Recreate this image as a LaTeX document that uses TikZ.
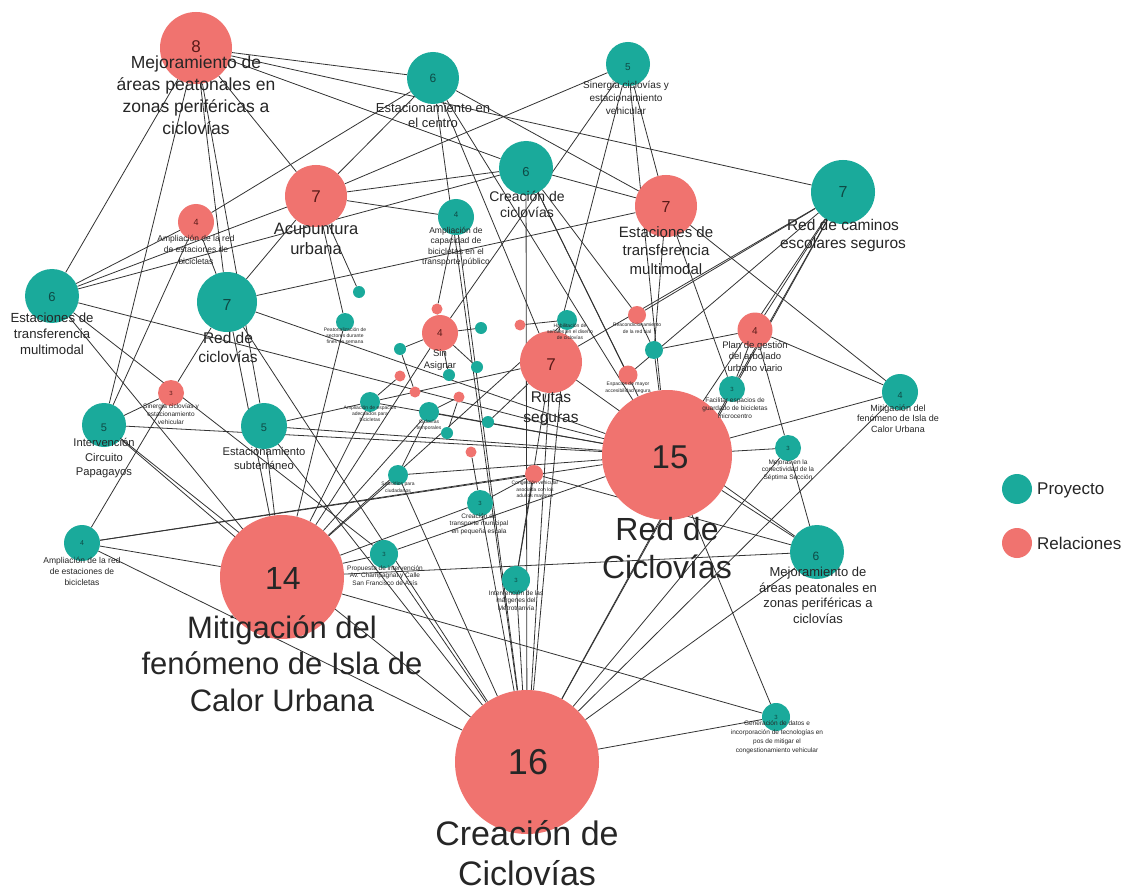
\documentclass[tikz,border=0pt]{standalone}
\usepackage{fontspec}
\setmainfont{Liberation Sans}
\usetikzlibrary{backgrounds}
\definecolor{tealc}{HTML}{1AAA9B}
\definecolor{redc}{HTML}{F0736F}
\definecolor{numred}{HTML}{5A1A18}
\definecolor{numteal}{HTML}{0E4A45}
\newcommand{\fsz}[2]{\fontsize{#1}{#2}\selectfont}
\begin{document}
\begin{tikzpicture}[x=1pt,y=-1pt,
  proj/.style={circle,fill=tealc,inner sep=0pt},
  rel/.style={circle,fill=redc,inner sep=0pt},
  lnk/.style={draw=black!80,line width=0.8pt},
  lab/.style={align=center,text=black!85,inner sep=0pt,anchor=north},
  num/.style={inner sep=0pt}]
\begin{pgfonlayer}{background}
\fill[white] (0,0) rectangle (1137,893);
\end{pgfonlayer}
\useasboundingbox (0,0) rectangle (1137,893);
% ---------- Relaciones (red) ----------
\node[rel,minimum size=72pt] (a8) at (196,48) {};
\node[rel,minimum size=62pt] (acu) at (316,196) {};
\node[rel,minimum size=62pt] (est7) at (666,206) {};
\node[rel,minimum size=62pt] (rut) at (551,362) {};
\node[rel,minimum size=130pt] (r15) at (667,455) {};
\node[rel,minimum size=124pt] (r14) at (282,577) {};
\node[rel,minimum size=144pt] (r16) at (527,762) {};
\node[rel,minimum size=36pt] (amp4r) at (196,222) {};
\node[rel,minimum size=36pt] (sin) at (440,333) {};
\node[rel,minimum size=35pt] (plan) at (755,330) {};
\node[rel,minimum size=26pt] (sin3) at (171,393) {};
\node[rel,minimum size=18pt] (reac) at (637,315) {};
\node[rel,minimum size=19pt] (esp) at (628,375) {};
\node[rel,minimum size=18pt] (cong) at (534,474) {};
\node[rel,minimum size=11pt] (rs1) at (520,325) {};
\node[rel,minimum size=11pt] (rs2) at (437,309) {};
\node[rel,minimum size=11pt] (rs3) at (400,376) {};
\node[rel,minimum size=11pt] (rs4) at (415,392) {};
\node[rel,minimum size=11pt] (rs5) at (459,397) {};
\node[rel,minimum size=11pt] (rs6) at (471,452) {};
% ---------- Proyectos (teal) ----------
\node[proj,minimum size=52pt] (ecen) at (433,78) {};
\node[proj,minimum size=44pt] (sine) at (628,64) {};
\node[proj,minimum size=54pt] (crea) at (526,168) {};
\node[proj,minimum size=64pt] (red7c) at (843,192) {};
\node[proj,minimum size=36pt] (ampc) at (456,217) {};
\node[proj,minimum size=54pt] (est6) at (52,296) {};
\node[proj,minimum size=60pt] (red7) at (227,302) {};
\node[proj,minimum size=44pt] (int5) at (104,425) {};
\node[proj,minimum size=46pt] (esub) at (264,426) {};
\node[proj,minimum size=36pt] (amp4t) at (82,543) {};
\node[proj,minimum size=28pt] (prop) at (384,554) {};
\node[proj,minimum size=26pt] (crtr) at (480,503) {};
\node[proj,minimum size=28pt] (int3) at (516,580) {};
\node[proj,minimum size=20pt] (subs) at (398,475) {};
\node[proj,minimum size=26pt] (mej) at (788,448) {};
\node[proj,minimum size=36pt] (mit4) at (900,392) {};
\node[proj,minimum size=26pt] (fac) at (732,389) {};
\node[proj,minimum size=54pt] (mejar) at (817,552) {};
\node[proj,minimum size=28pt] (gen) at (776,717) {};
\node[proj,minimum size=18pt] (peat) at (345,322) {};
\node[proj,minimum size=12pt] (ts1) at (359,292) {};
\node[proj,minimum size=12pt] (ts2) at (400,349) {};
\node[proj,minimum size=12pt] (ts3) at (481,328) {};
\node[proj,minimum size=12pt] (ts4) at (477,367) {};
\node[proj,minimum size=12pt] (ts5) at (449,375) {};
\node[proj,minimum size=20pt] (ampes) at (370,402) {};
\node[proj,minimum size=20pt] (cic) at (429,412) {};
\node[proj,minimum size=12pt] (ts6) at (447,433) {};
\node[proj,minimum size=12pt] (ts7) at (488,422) {};
\node[proj,minimum size=20pt] (hab) at (567,320) {};
\node[proj,minimum size=18pt] (ts8) at (654,350) {};
% ---------- connectors ----------
\begin{pgfonlayer}{background}
\foreach \a/\b in {a8/ecen,a8/red7c,a8/crea,a8/acu,a8/est6,a8/int5,a8/red7,a8/esub,
  acu/ecen,acu/sine,acu/ampc,acu/red7,acu/est6,acu/ts1,acu/peat,acu/crea,
  amp4r/ecen,amp4r/red7,amp4r/est6,amp4r/int5,
  est7/ecen,est7/sine,est7/crea,est7/red7,est7/ts8,est7/fac,est7/mit4,
  ecen/r16,ecen/rut,ecen/r15,sine/sin,sine/r15,sine/rut,
  crea/esp,crea/r15,crea/reac,crea/est6,crea/r16,
  red7c/reac,red7c/esp,red7c/plan,red7c/fac,red7c/r15,red7c/r16,red7c/rut,
  rut/ts7,rut/ampes,rut/mejar,rut/r16,rut/int3,
  r15/int5,r15/esub,r15/est6,r15/subs,r15/ampes,r15/mej,r15/mit4,r15/mejar,r15/amp4t,
  r15/red7,r15/cic,r15/ts8,r15/gen,r15/prop,
  r14/red7,r14/int5,r14/est6,r14/esub,r14/amp4t,r14/prop,r14/crtr,r14/subs,r14/ampes,
  r14/cic,r14/sin,r14/gen,r14/mejar,r14/hab,r14/peat,
  r16/gen,r16/mejar,r16/mit4,r16/mej,r16/int3,r16/crtr,r16/prop,r16/esub,r16/red7,
  r16/int5,r16/amp4t,r16/subs,r16/hab,r16/fac,r16/ampc,
  sin3/red7,sin3/amp4t,sin3/int5,est6/prop,crtr/rs6,crtr/cong,
  cong/amp4t,cong/int3,cong/mejar,mej/plan,mej/mejar,mit4/plan,plan/ts8,plan/fac,
  ts8/reac,hab/rs1,rs2/ampc,sin/ts2,sin/ts3,sin/ts4,sin/rs2,sin/ts5,rs3/ampes,
  rs4/ts2,rs5/cic,subs/cic,esub/ampes,ts6/rs5}
  \draw[lnk] (\a) -- (\b);
\end{pgfonlayer}
% ---------- numbers ----------
\node[num,text=numred,font=\fsz{17}{20}] (na8) at (196,47) {8};
\node[num,text=numred,font=\fsz{17}{20}] (nacu) at (316,197) {7};
\node[num,text=numred,font=\fsz{16}{19}] (nest7) at (666,207) {7};
\node[num,text=numred,font=\fsz{17}{20}] (nrut) at (551,365) {7};
\node[num,text=black!85,font=\fsz{33}{38}] (nr15) at (670,457) {15};
\node[num,text=black!85,font=\fsz{32}{38}] (nr14) at (283,578) {14};
\node[num,text=black!85,font=\fsz{36}{40}] (nr16) at (528,762) {16};
\node[num,text=numred,font=\fsz{9}{11}] (namp4r) at (196,222) {4};
\node[num,text=numred,font=\fsz{10}{12}] (nsin) at (440,333) {4};
\node[num,text=numred,font=\fsz{10}{12}] (nplan) at (755,331) {4};
\node[num,text=numred,font=\fsz{6}{7}] (nsin3) at (171,393) {3};
\node[num,text=numteal,font=\fsz{12}{14}] (necen) at (433,78) {6};
\node[num,text=numteal,font=\fsz{10}{12}] (nsine) at (628,67) {5};
\node[num,text=numteal,font=\fsz{13}{15}] (ncrea) at (526,172) {6};
\node[num,text=numteal,font=\fsz{16}{19}] (nred7c) at (843,192) {7};
\node[num,text=numteal,font=\fsz{8}{10}] (nampc) at (456,215) {4};
\node[num,text=numteal,font=\fsz{13}{15}] (nest6) at (52,297) {6};
\node[num,text=numteal,font=\fsz{16}{19}] (nred7) at (227,305) {7};
\node[num,text=numteal,font=\fsz{11}{13}] (nint5) at (104,428) {5};
\node[num,text=numteal,font=\fsz{11}{13}] (nesub) at (264,428) {5};
\node[num,text=numteal,font=\fsz{7}{8}] (namp4t) at (82,543) {4};
\node[num,text=numteal,font=\fsz{9}{11}] (nmit4) at (900,395) {4};
\node[num,text=numteal,font=\fsz{12}{14}] (nmejar) at (816,556) {6};
\node[num,text=numteal,font=\fsz{6}{7}] (nprop) at (384,554) {3};
\node[num,text=numteal,font=\fsz{6}{7}] (ncrtr) at (480,503) {3};
\node[num,text=numteal,font=\fsz{6}{7}] (nint3) at (516,580) {3};
\node[num,text=numteal,font=\fsz{6}{7}] (nmej) at (788,448) {3};
\node[num,text=numteal,font=\fsz{6}{7}] (nfac) at (732,389) {3};
\node[num,text=numteal,font=\fsz{6}{7}] (ngen) at (776,717) {3};
% ---------- labels ----------
\node[lab,font=\fsz{17.5}{22}] (la8) at (196,56) {Mejoramiento de\\áreas peatonales en\\zonas periféricas a\\ciclovías};
\node[lab,font=\fsz{16.5}{20}] (lacu) at (316,223) {Acupuntura\\urbana};
\node[lab,font=\fsz{15}{18.5}] (lest7) at (666,226) {Estaciones de\\transferencia\\multimodal};
\node[lab,font=\fsz{15.5}{18}] (lred7c) at (843,219) {Red de caminos\\escolares seguros};
\node[lab,font=\fsz{15.5}{19.5}] (lrut) at (551,392) {Rutas\\seguras};
\node[lab,font=\fsz{32}{38}] (lr15) at (667,517) {Red de\\Ciclovías};
\node[lab,font=\fsz{31}{36.5}] (lr14) at (282,615) {Mitigación del\\fenómeno de Isla de\\Calor Urbana};
\node[lab,font=\fsz{34}{40}] (lr16) at (527,820) {Creación de\\Ciclovías};
\node[lab,font=\fsz{8.5}{11.5}] (lamp4r) at (196,234.6) {Ampliación de la red\\de estaciones de\\bicicletas};
\node[lab,font=\fsz{9.5}{12}] (lsin) at (440,349) {Sin\\Asignar};
\node[lab,font=\fsz{9.5}{11.5}] (lplan) at (755,341) {Plan de gestión\\del arbolado\\urbano viario};
\node[lab,font=\fsz{6.5}{8}] (lsin3) at (171,403.4) {Sinergia ciclovías y\\estacionamiento\\vehicular};
\node[lab,font=\fsz{5}{7}] (lreac) at (637,323) {Reacondicionamiento\\de la red vial};
\node[lab,font=\fsz{5}{7}] (lesp) at (628,382) {Espacios de mayor\\accesibilidad segura};
\node[lab,font=\fsz{5}{6.5}] (lcong) at (535,481) {Congestión vehicular\\asociada con los\\adultos mayores};
\node[lab,font=\fsz{13}{15}] (lecen) at (433,103) {Estacionamiento en\\el centro};
\node[lab,font=\fsz{10}{13}] (lsine) at (626,81) {Sinergia ciclovías y\\estacionamiento\\vehicular};
\node[lab,font=\fsz{14}{16}] (lcrea) at (527,191) {Creación de\\ciclovías};
\node[lab,font=\fsz{8.5}{10.5}] (lampc) at (456,226.6) {Ampliación de\\capacidad de\\bicicletas en el\\transporte público};
\node[lab,font=\fsz{13.2}{15.8}] (lest6) at (52,313) {Estaciones de\\transferencia\\multimodal};
\node[lab,font=\fsz{15.5}{19}] (lred7) at (228,332) {Red de\\ciclovías};
\node[lab,font=\fsz{11.2}{14.5}] (lint5) at (104,438.5) {Intervención\\Circuito\\Papagayos};
\node[lab,font=\fsz{11.2}{13.5}] (lesub) at (264,447.5) {Estacionamiento\\subterráneo};
\node[lab,font=\fsz{8.5}{11}] (lamp4t) at (82,556.6) {Ampliación de la red\\de estaciones de\\bicicletas};
\node[lab,font=\fsz{6.5}{7.6}] (lprop) at (385,565.4) {Propuesta de intervención\\Av. Champagnat y Calle\\San Francisco de Asís};
\node[lab,font=\fsz{6.5}{7.6}] (lcrtr) at (479,513.4) {Creación de\\transporte municipal\\en pequeña escala};
\node[lab,font=\fsz{6.5}{7.6}] (lint3) at (516,590.4) {Intervención de las\\márgenes del\\Metrotranvía};
\node[lab,font=\fsz{5}{7}] (lsubs) at (398,482) {Subsidios para\\ciudadanos};
\node[lab,font=\fsz{6.5}{7.6}] (lmej) at (788,459.4) {Mejoras en la\\conectividad de la\\Séptima Sección};
\node[lab,font=\fsz{9}{10.5}] (lmit4) at (898,404.4) {Mitigación del\\fenómeno de Isla de\\Calor Urbana};
\node[lab,font=\fsz{6.5}{8.3}] (lfac) at (735,397.4) {Facilitar espacios de\\guardado de bicicletas\\microcentro};
\node[lab,font=\fsz{13}{15.6}] (lmejar) at (818,567) {Mejoramiento de\\áreas peatonales en\\zonas periféricas a\\ciclovías};
\node[lab,font=\fsz{6.5}{9}] (lgen) at (777,720.4) {Generación de datos e\\incorporación de tecnologías en\\pos de mitigar el\\congestionamiento vehicular};
\node[lab,font=\fsz{5}{6}] (lpeat) at (345,328) {Peatonalización de\\sectores durante\\fines de semana};
\node[lab,font=\fsz{5}{6}] (lampes) at (370,406) {Ampliación de espacios\\adecuados para\\bicicletas};
\node[lab,font=\fsz{5}{6}] (lcic) at (429,420) {Ciclovías\\temporales};
\node[lab,font=\fsz{5}{6}] (lhab) at (570,324) {Habilitación de\\señales en el diseño\\de ciclovías};
% ---------- legend ----------
\node[proj,minimum size=30pt] (legp) at (1017,489) {};
\node[anchor=west,inner sep=0pt,font=\fsz{17}{20},text=black!85] (legpt) at (1037,490) {Proyecto};
\node[rel,minimum size=30pt] (legr) at (1017,543) {};
\node[anchor=west,inner sep=0pt,font=\fsz{17}{20},text=black!85] (legrt) at (1037,543) {Relaciones};
\end{tikzpicture}
\end{document}
